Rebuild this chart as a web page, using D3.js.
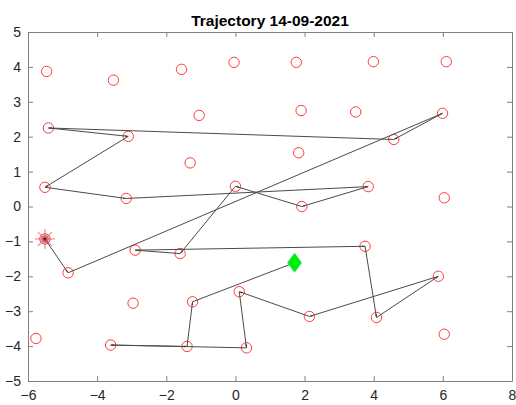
<!DOCTYPE html>
<html><head><meta charset="utf-8">
<script src="https://cdn.jsdelivr.net/npm/d3@7"></script>
<style>body{margin:0;background:#fff;} svg{display:block;}</style>
</head><body>
<script>
const titleText = "Trajectory 14-09-2021";
const xTicks = [-6,-4,-2,0,2,4,6,8];
const yTicks = [-5,-4,-3,-2,-1,0,1,2,3,4,5];
// all target circles
const circX = [-5.46,-3.53,-1.56,-0.04,1.76,3.99,6.10,
  -5.41,-3.10,-1.05,1.90,3.48,5.99,4.58,
  1.83,-1.31,-5.51,-3.16,0.00,1.92,3.84,6.04,
  -5.51,-2.90,-1.60,3.75,
  -4.84,-2.96,-1.24,0.11,2.14,5.87,4.08,6.04,-5.77,-3.61,-1.40,0.32];
const circY = [3.87,3.62,3.93,4.13,4.13,4.15,4.15,
  2.25,2.01,2.61,2.75,2.71,2.67,1.92,
  1.54,1.25,0.55,0.23,0.58,0.00,0.57,0.25,
  -0.93,-1.25,-1.35,-1.14,
  -1.90,-2.77,-2.73,-2.44,-3.15,-2.00,-3.18,-3.66,-3.78,-3.97,-4.01,-4.05];
// trajectory
const pathX = [-5.51,-4.84,5.99,4.58,-5.41,-3.10,-5.51,-3.16,3.84,1.92,0.00,-1.60,-2.90,3.75,4.08,5.87,2.14,0.11,0.32,-3.61,-1.40,-1.24,1.71];
const pathY = [-0.93,-1.90,2.67,1.92,2.25,2.01,0.55,0.23,0.57,0.00,0.58,-1.35,-1.25,-1.14,-3.18,-2.00,-3.15,-2.44,-4.05,-3.97,-4.01,-2.73,-1.61];
const startPt = [-5.51,-0.93];
const endPt = [1.71,-1.61];

const W=516,H=405;
const m={l:28,r:4,t:32,b:24};
const svg=d3.select("body").append("svg").attr("width",W).attr("height",H);
const x=d3.scaleLinear().domain([-6,8]).range([m.l,W-m.r]);
const y=d3.scaleLinear().domain([-5,5]).range([H-m.b,m.t]);
const font="'Liberation Sans', Arial, Helvetica, sans-serif";
const axCol="#808080", txtCol="#262626";

svg.append("defs").append("marker").attr("id","ah").attr("viewBox","0 0 10 10")
  .attr("refX",10).attr("refY",5).attr("markerWidth",3.5).attr("markerHeight",3.5)
  .attr("orient","auto").append("path").attr("d","M0,2.5 L10,5 L0,7.5 Z").attr("fill","#333");

// axes with inward ticks on all sides
const tl=5;
const gx=svg.append("g").attr("transform",`translate(0,${y(-5)})`)
  .call(d3.axisBottom(x).tickValues(xTicks).tickSizeInner(-tl).tickSizeOuter(0).tickPadding(9));
const gxt=svg.append("g").attr("transform",`translate(0,${y(5)})`)
  .call(d3.axisTop(x).tickValues(xTicks).tickSizeInner(-tl).tickSizeOuter(0).tickFormat(""));
const gy=svg.append("g").attr("transform",`translate(${x(-6)},0)`)
  .call(d3.axisLeft(y).tickValues(yTicks).tickSizeInner(-tl).tickSizeOuter(0).tickPadding(7));
const gyr=svg.append("g").attr("transform",`translate(${x(8)},0)`)
  .call(d3.axisRight(y).tickValues(yTicks).tickSizeInner(-tl).tickSizeOuter(0).tickFormat(""));
[gx,gxt,gy,gyr].forEach(g=>{
  g.select(".domain").attr("stroke",axCol).attr("stroke-width",1);
  g.selectAll(".tick line").attr("stroke",axCol);
  g.selectAll("text").attr("fill",txtCol).style("font-family",font).style("font-size","14px");
});

// circles
svg.append("g").selectAll("circle").data(circX.map((v,i)=>[v,circY[i]])).join("circle")
  .attr("cx",d=>x(d[0])).attr("cy",d=>y(d[1])).attr("r",5.2)
  .attr("fill","none").attr("stroke","#ff3a3a").attr("stroke-width",1);

// trajectory segments with tiny arrowheads
const segs=d3.range(pathX.length-1).map(i=>[pathX[i],pathY[i],pathX[i+1],pathY[i+1]]);
svg.append("g").selectAll("line").data(segs).join("line")
  .attr("x1",d=>x(d[0])).attr("y1",d=>y(d[1])).attr("x2",d=>x(d[2])).attr("y2",d=>y(d[3]))
  .attr("stroke","#4a4a4a").attr("stroke-width",1).attr("marker-end","url(#ah)");

// start marker (asterisk)
const sx=x(startPt[0]), sy=y(startPt[1]);
const sg=svg.append("g");
d3.range(8).forEach(k=>{
  const a=k*Math.PI/4, r=10;
  sg.append("line").attr("x1",sx).attr("y1",sy).attr("x2",sx+r*Math.cos(a)).attr("y2",sy+r*Math.sin(a))
    .attr("stroke","#e04050").attr("stroke-opacity",0.55).attr("stroke-width",1.3);
});
sg.append("circle").attr("cx",sx).attr("cy",sy).attr("r",4).attr("fill","#c03040").attr("fill-opacity",0.55);
sg.append("circle").attr("cx",sx).attr("cy",sy).attr("r",1.5).attr("fill","#552020");

// end marker (diamond)
const ex=x(endPt[0]), ey=y(endPt[1]);
svg.append("path").attr("d",`M${ex},${ey-9.5} L${ex+7},${ey} L${ex},${ey+9.5} L${ex-7},${ey} Z`)
  .attr("fill","#00ee00").attr("stroke","#22dd88").attr("stroke-width",0.8);

// title
svg.append("text").attr("x",(x(-6)+x(8))/2).attr("y",26).attr("text-anchor","middle")
  .style("font-family",font).style("font-size","15.5px").style("font-weight","bold").attr("fill","#000")
  .text(titleText);
</script>
</body></html>
